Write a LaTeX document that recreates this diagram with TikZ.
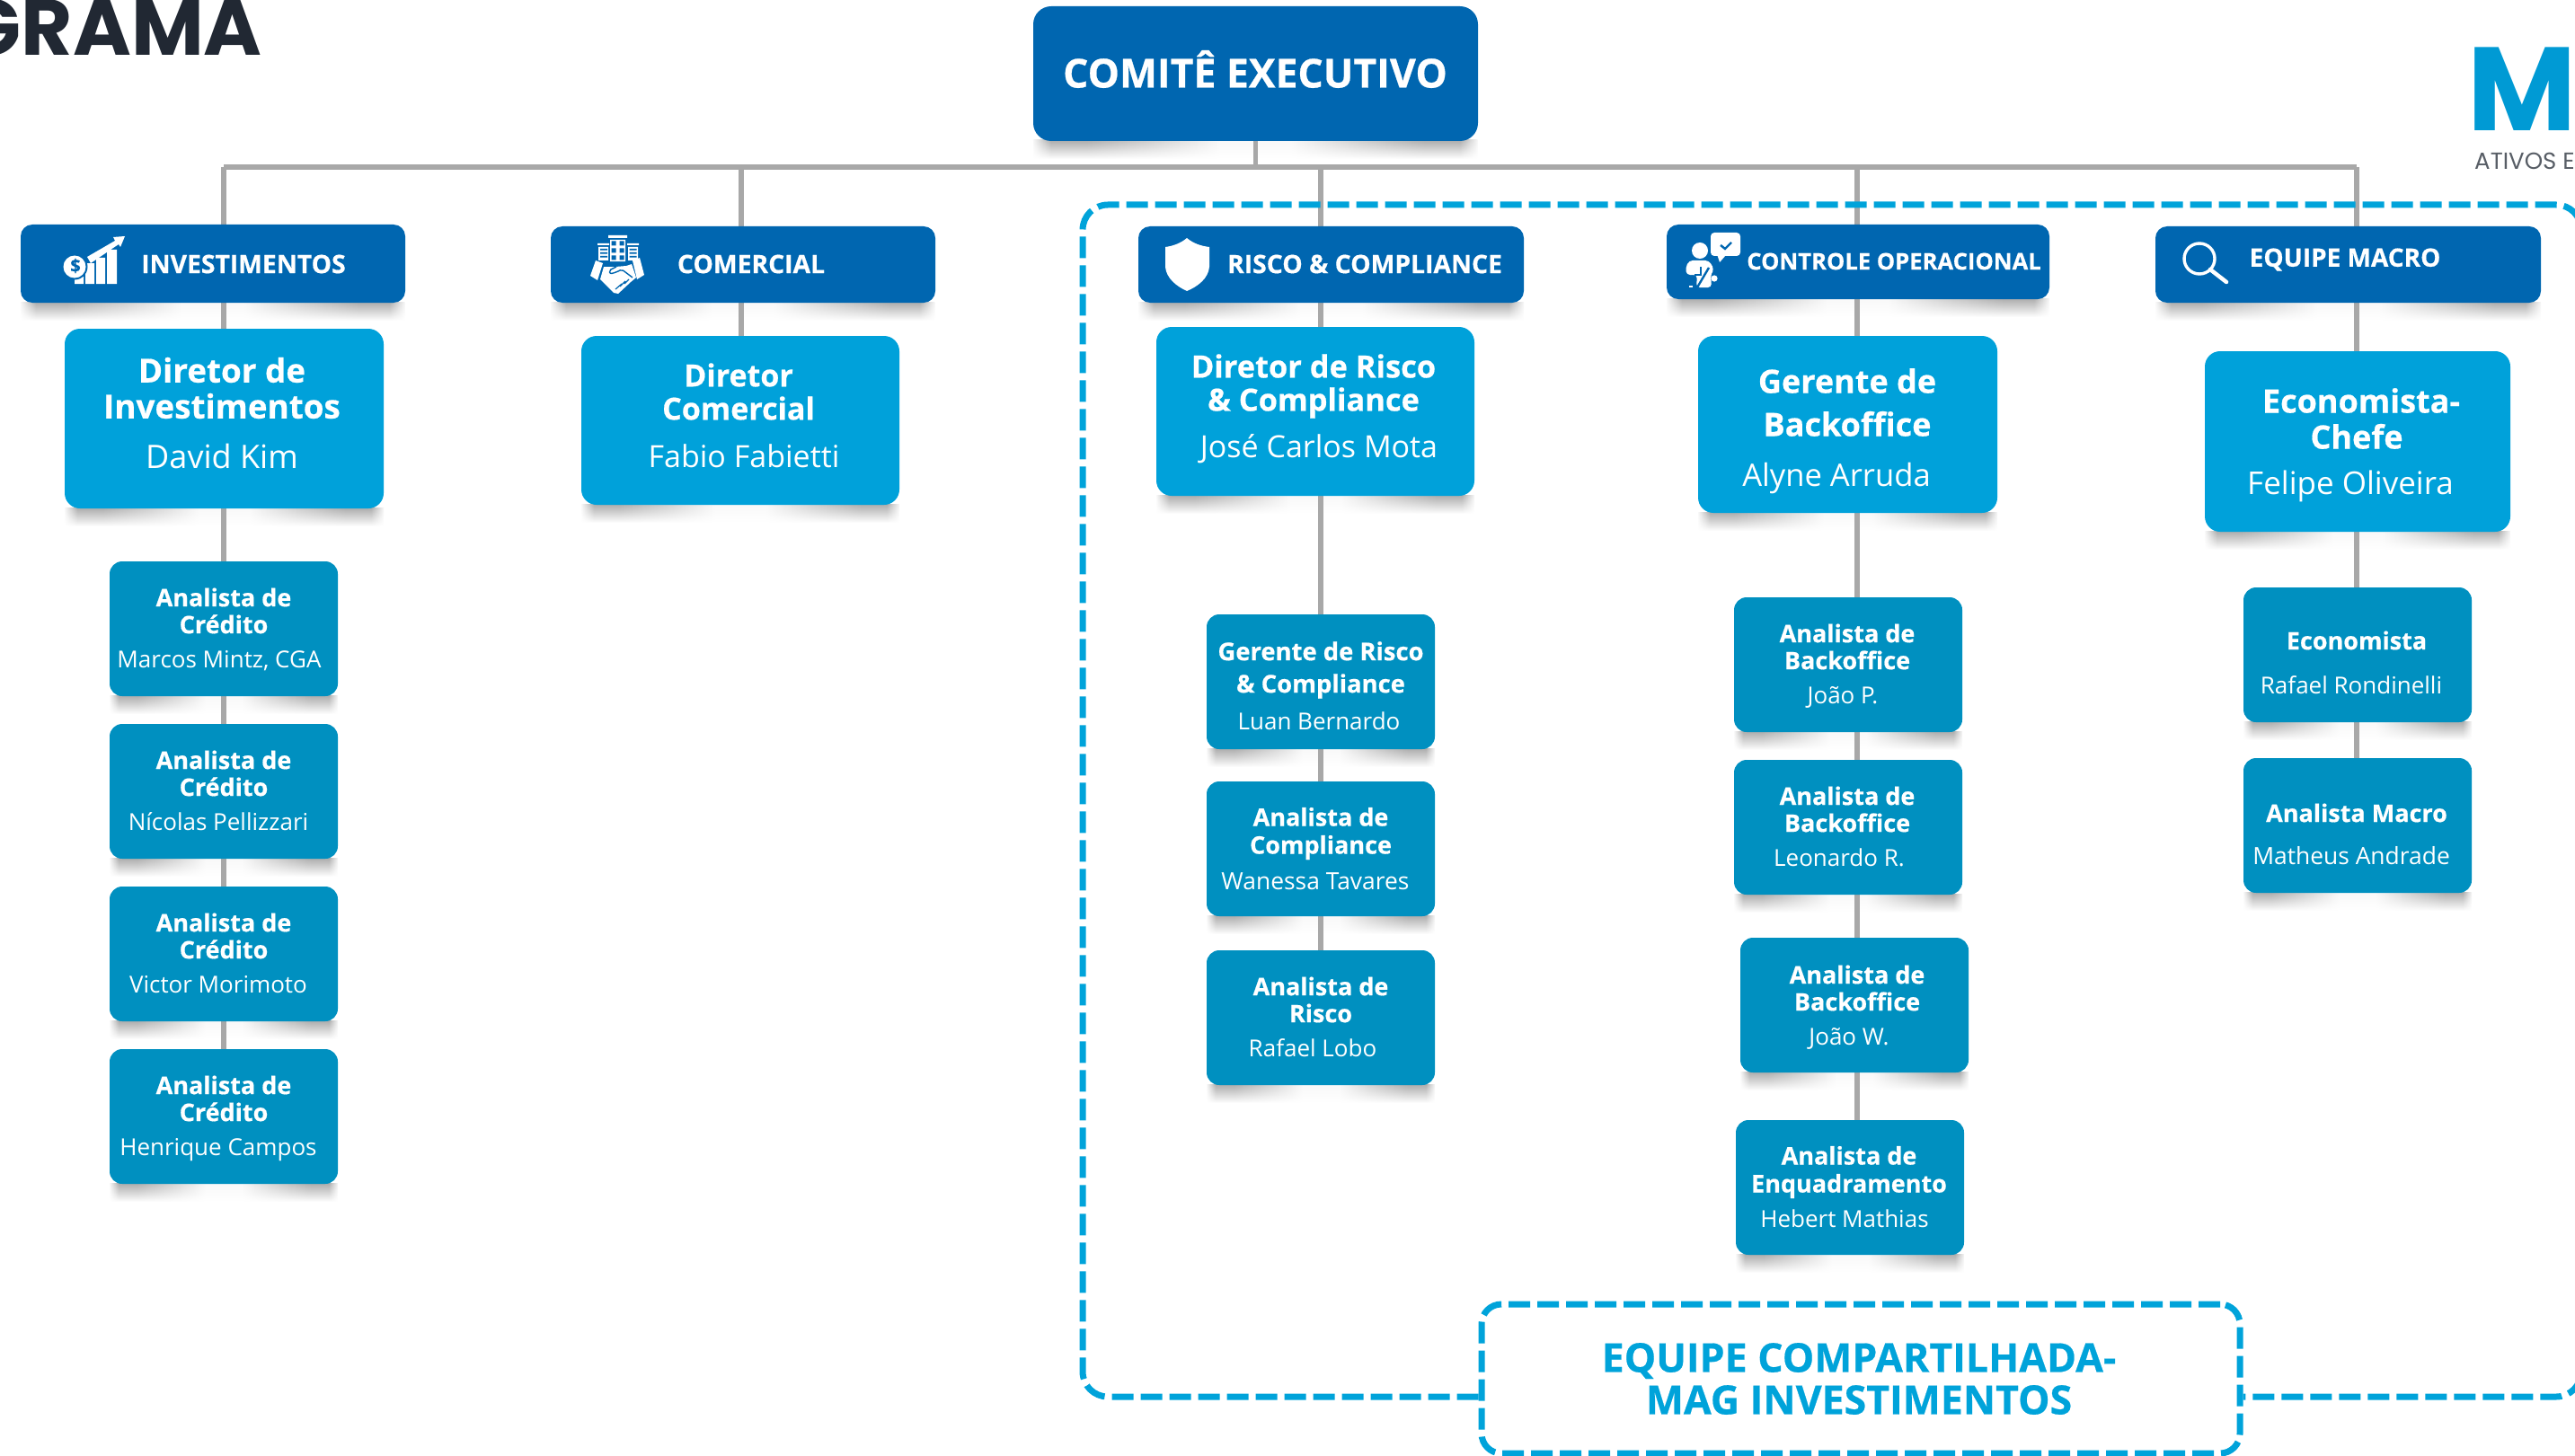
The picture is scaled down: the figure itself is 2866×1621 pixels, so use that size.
\documentclass[tikz,border=0pt]{standalone}
\usepackage{fontspec}
\setmainfont{Open Sans}
\newfontfamily\xb{Open Sans}[UprightFont=* Bold,FakeBold=0.5]
\newfontfamily\pop{Poppins}[UprightFont=* Bold]
\newfontfamily\popr{Poppins}
\usetikzlibrary{fadings,backgrounds}
\definecolor{hdr}{HTML}{0066B0}
\definecolor{dirc}{HTML}{00A1DA}
\definecolor{ana}{HTML}{0090C0}
\definecolor{cyanl}{HTML}{00A3DA}
\definecolor{linec}{HTML}{A8A8A8}
\definecolor{darkt}{HTML}{212833}
\definecolor{sg}{HTML}{ABABAB}
\definecolor{sl}{HTML}{F8F8F8}
\pgfdeclarehorizontalshading{shadowh}{100bp}{color(0bp)=(sl); color(25bp)=(sl); color(27bp)=(sg); color(31bp)=(sg); color(38bp)=(sg!60!white); color(46bp)=(sl); color(54bp)=(sl); color(62bp)=(sg!60!white); color(69bp)=(sg); color(73bp)=(sg); color(75bp)=(sl); color(100bp)=(sl)}
\tikzfading[name=fadedown, top color=transparent!0, bottom color=transparent!100]
\pgfdeclarelayer{shadowlayer}
\pgfdeclarelayer{linelayer}
\pgfsetlayers{shadowlayer,linelayer,main}
\tikzset{
  x=1pt,y=-1pt,
  orgbox/.style={rectangle,inner sep=0pt,outer sep=0pt,text=white},
  topb/.style={orgbox,fill=hdr,rounded corners=20pt},
  headb/.style={orgbox,fill=hdr,rounded corners=13pt},
  dirb/.style={orgbox,fill=dirc,rounded corners=17pt},
  anab/.style={orgbox,fill=ana,rounded corners=14pt},
  conn/.style={draw=linec,line width=6pt},
  teamline/.style={draw=cyanl,line width=7pt,dash pattern=on 24pt off 8pt},
  ttl/.style={text=white,align=center,inner sep=0pt},
  nm/.style={text=white,inner sep=0pt,anchor=mid},
  ic/.style={fill=white,draw=none},
  icb/.style={fill=hdr,draw=none},
}
% name, style, x0,y0,x1,y1
\newcommand{\orgb}[6]{%
  \pgfmathsetmacro{\cxv}{(#3+#5)/2}\pgfmathsetmacro{\cyv}{(#4+#6)/2}%
  \pgfmathsetmacro{\wv}{#5-#3}\pgfmathsetmacro{\hv}{#6-#4}%
  \begin{pgfonlayer}{shadowlayer}
  \path[shading=shadowh,path fading=fadedown] (#3,#6-1) rectangle (#5,#6+20);
  \end{pgfonlayer}
  \node[#2,minimum width=\wv pt,minimum height=\hv pt] (#1) at (\cxv,\cyv) {};}
% name, cx, cy, size, leading, text
\newcommand{\ttlnode}[6]{\node[ttl,font=\xb\fontsize{#4}{#5}\selectfont] (#1) at (#2,#3) {#6};}
\newcommand{\nmnode}[5]{\pgfmathsetmacro{\nyv}{#3+0.3*#4}\node[nm,font=\fontsize{#4}{#4}\selectfont] (#1) at (#2,\nyv) {#5};}
\newcommand{\hdrtext}[5]{\node[ttl,font=\xb\fontsize{#4}{#4}\selectfont] (#1) at (#2,#3) {#5};}
\begin{document}
\begin{tikzpicture}
\useasboundingbox (0,0) rectangle (2866,1621);
\clip (0,0) rectangle (2866,1621);
% title and logo fragments
\node[font=\pop\fontsize{88}{88}\selectfont,text=darkt,anchor=base east,inner sep=0pt] (grama) at (292,62) {GRAMA};
\node[font=\pop\fontsize{132}{132}\selectfont,text=cyanl!85!hdr,anchor=base west,inner sep=0pt] (logom) at (2746,146) {M};
\node[font=\popr\fontsize{26}{26}\selectfont,text=darkt!75!white,anchor=base west,inner sep=0pt] (logot) at (2754,189) {ATIVOS E};
% boxes
\orgb{top}{topb}{1150}{7}{1645}{157}
\orgb{hinv}{headb}{23}{250}{451}{337}
\orgb{hcom}{headb}{613}{252}{1041}{337}
\orgb{hris}{headb}{1267}{252}{1696}{337}
\orgb{hctl}{headb}{1855}{250}{2281}{333}
\orgb{hmac}{headb}{2399}{252}{2828}{337}
\orgb{dinv}{dirb}{72}{366}{427}{566}
\orgb{dcom}{dirb}{647}{374}{1001}{562}
\orgb{dris}{dirb}{1287}{364}{1641}{552}
\orgb{dctl}{dirb}{1890}{374}{2223}{571}
\orgb{dmac}{dirb}{2454}{391}{2794}{592}
\orgb{ai1}{anab}{122}{625}{376}{775}
\orgb{ai2}{anab}{122}{806}{376}{956}
\orgb{ai3}{anab}{122}{987}{376}{1137}
\orgb{ai4}{anab}{122}{1168}{376}{1318}
\orgb{ar1}{anab}{1343}{684}{1597}{834}
\orgb{ar2}{anab}{1343}{870}{1597}{1020}
\orgb{ar3}{anab}{1343}{1058}{1597}{1208}
\orgb{ac1}{anab}{1930}{665}{2184}{815}
\orgb{ac2}{anab}{1930}{846}{2184}{996}
\orgb{ac3}{anab}{1937}{1044}{2191}{1194}
\orgb{ac4}{anab}{1932}{1247}{2186}{1397}
\orgb{am1}{anab}{2497}{654}{2751}{804}
\orgb{am2}{anab}{2497}{844}{2751}{994}
% connectors
\coordinate (bl) at (249,186);
\coordinate (bc) at (825,186);
\coordinate (br) at (1470,186);
\coordinate (bk) at (2067,186);
\coordinate (bm) at (2623,186);
\coordinate (bt) at (1397,186);
\begin{pgfonlayer}{linelayer}
\draw[conn] (bl |- bt) -- (bm);
\draw[draw=linec,line width=5pt] (bt |- top.south) -- (bt);
\foreach \a/\u/\v in {bl/bl/hinv,bl/hinv/dinv,bl/dinv/ai1,bl/ai1/ai2,bl/ai2/ai3,bl/ai3/ai4,
 bc/bc/hcom,bc/hcom/dcom,
 br/br/hris,br/hris/dris,br/dris/ar1,br/ar1/ar2,br/ar2/ar3,
 bk/bk/hctl,bk/hctl/dctl,bk/dctl/ac1,bk/ac1/ac2,bk/ac2/ac3,bk/ac3/ac4,
 bm/bm/hmac,bm/hmac/dmac,bm/dmac/am1,bm/am1/am2}{
   \ifx\a\u \draw[conn] (\a) -- (\a |- \v.north);
   \else \draw[conn] (\a |- \u.south) -- (\a |- \v.north); \fi
 }
\end{pgfonlayer}
% shared team frame
\coordinate (fa) at (1649,1555);
\coordinate (fb) at (2493,1555);
\node[rectangle,draw=cyanl,line width=7pt,dash pattern=on 24pt off 8pt,rounded corners=22pt,fill=white,minimum width=844pt,minimum height=166pt,inner sep=0pt] (team) at (2071,1535) {};
\draw[teamline,rounded corners=28pt] (team.west |- fa) -- (1205,1555) -- (1205,228) -- (2873,228) -- (2873,1555) -- (team.east |- fb);
% texts
\node[ttl,font=\xb\fontsize{44.5}{46}\selectfont] (ttop) at (1397,77) {COMITÊ EXECUTIVO};
\hdrtext{tinv}{271}{294}{28.3}{INVESTIMENTOS}
\hdrtext{tcom}{836}{294}{28.3}{COMERCIAL}
\hdrtext{tris}{1519}{294}{28.3}{RISCO \& COMPLIANCE}
\hdrtext{tctl}{2108}{291}{25.6}{CONTROLE OPERACIONAL}
\hdrtext{tmac}{2610}{289}{28}{EQUIPE MACRO}
\ttlnode{t1}{247}{432}{36.8}{40}{Diretor de\\Investimentos}
\nmnode{n1}{247}{508}{36}{David Kim}
\ttlnode{t2}{822}{436}{34}{37}{Diretor\\Comercial}
\nmnode{n2}{828}{508}{34}{Fabio Fabietti}
\ttlnode{t3}{1462}{430}{34.4}{37}{Diretor de Risco\\\& Compliance}
\nmnode{n3}{1468}{497}{34}{José Carlos Mota}
\ttlnode{t4}{2056}{448}{36}{48}{Gerente de\\Backoffice}
\nmnode{n4}{2044}{528}{34.6}{Alyne Arruda}
\ttlnode{t5}{2628}{466}{36}{40}{Economista-\\Chefe\hspace*{10pt}}
\nmnode{n5}{2616}{537}{35}{Felipe Oliveira}
\ttlnode{a1}{249}{680}{27}{30}{Analista de\\Crédito}
\nmnode{m1}{244}{733}{26}{Marcos Mintz, CGA}
\ttlnode{a2}{249}{861}{27}{30}{Analista de\\Crédito}
\nmnode{m2}{243}{914}{26}{Nícolas Pellizzari}
\ttlnode{a3}{249}{1042}{27}{30}{Analista de\\Crédito}
\nmnode{m3}{243}{1095}{26}{Victor Morimoto}
\ttlnode{a4}{249}{1223}{27}{30}{Analista de\\Crédito}
\nmnode{m4}{243}{1276}{26}{Henrique Campos}
\ttlnode{b1}{1470}{746}{27.4}{36}{Gerente de Risco\\\& Compliance}
\nmnode{o1}{1468}{802}{26}{Luan Bernardo}
\ttlnode{b2}{1470}{928}{27}{31}{Analista de\\Compliance}
\nmnode{o2}{1464}{980}{26.4}{Wanessa Tavares}
\ttlnode{b3}{1470}{1113}{27}{30}{Analista de\\Risco}
\nmnode{o3}{1461}{1166}{26}{Rafael Lobo}
\ttlnode{c1}{2056}{720}{27}{30}{Analista de\\Backoffice}
\nmnode{p1}{2051}{773}{26}{João P.}
\ttlnode{c2}{2056}{901}{27}{30}{Analista de\\Backoffice}
\nmnode{p2}{2047}{954}{26}{Leonardo R.}
\ttlnode{c3}{2067}{1100}{27}{30}{Analista de\\Backoffice}
\nmnode{p3}{2058}{1153}{26}{João W.}
\ttlnode{c4}{2058}{1305}{27}{31}{Analista de\\Enquadramento}
\nmnode{p4}{2053}{1356}{26}{Hebert Mathias}
\ttlnode{e1}{2623}{713}{27}{30}{Economista}
\nmnode{q1}{2617}{762}{26}{Rafael Rondinelli}
\ttlnode{e2}{2623}{905}{27}{30}{Analista Macro}
\nmnode{q2}{2617}{952}{26.4}{Matheus Andrade}
\node[align=center,inner sep=0pt,text=cyanl,font=\xb\fontsize{44.6}{47}\selectfont] (tteam) at (2069,1535) {EQUIPE COMPARTILHADA-\\MAG INVESTIMENTOS};
% icon: investimentos
\fill[ic] (83,308) rectangle (93,316) (95,293) rectangle (105,316) (107,287) rectangle (117,316) (119,278) rectangle (130,316);
\fill[ic] (97,286) -- (128,268) -- (126,264) -- (139,263) -- (134,275) -- (132,272) -- (101,293) -- cycle;
\fill[icb] (83,297) circle (14.5);
\fill[ic] (83,297) circle (12.5);
\node[inner sep=0pt,text=hdr,font=\xb\fontsize{20}{20}\selectfont] (idollar) at (84,296) {\$};
% icon: comercial
\fill[ic] (677,262) rectangle (698,265) (679,267) rectangle (696,291);
\fill[ic] (665,271) rectangle (678,273) (666,275) rectangle (677,290);
\fill[ic] (698,271) rectangle (711,273) (699,275) rectangle (710,290);
\foreach \yy in {268.5,276.5,284.5}{\fill[icb] (680.5,\yy) rectangle +(5,5) (689.5,\yy) rectangle +(5,5);}
\foreach \yy in {277,281,285}{\fill[icb] (668,\yy) rectangle +(8,1.6) (700.5,\yy) rectangle +(8,1.6);}
\fill[ic] (663,290) -- (671,293) -- (665,312) -- (657,307) -- cycle;
\fill[ic] (704,290) -- (712,287) -- (717,306) -- (709,311) -- cycle;
\fill[ic] (672,297) -- (685,297) -- (697,296) -- (703,294) -- (708,309) -- (702,314) -- (688,327) -- (683,326) -- (668,311) -- cycle;
\draw[draw=hdr,line width=1.4pt,rounded corners=2pt] (704,309) -- (692,300) -- (686,303) -- (679,305) -- (678,301) -- (686,297);
\draw[draw=hdr,line width=1.2pt] (685,322) -- (692,316) (690,319) -- (696,313) (695,316) -- (700,311);
% icon: escudo
\fill[ic] (1321,265) .. controls (1314,271) and (1305,274) .. (1297,275) -- (1297,297) .. controls (1298,310) and (1310,319) .. (1321,324) .. controls (1333,319) and (1345,310) .. (1346,297) -- (1346,275) .. controls (1337,274) and (1328,271) .. (1321,265) -- cycle;
% icon: controle
\fill[ic,rounded corners=4pt] (1904,259) rectangle (1937,285);
\fill[ic] (1911,283) -- (1921,284) -- (1914,292) -- cycle;
\draw[draw=hdr,line width=2.4pt] (1915,273) -- (1920,277) -- (1927,270);
\fill[ic] (1892,279) circle (9);
\fill[ic,rounded corners=4pt] (1880,290) -- (1902,290) -- (1908,300) -- (1904,305) -- (1905,320) -- (1888,320) -- (1889,306) -- (1877,306) -- (1876,298) -- cycle;
\fill[ic] (1880,318) rectangle (1884,320);
\fill[ic] (1908,310) circle (3.6);
\draw[draw=hdr,line width=2.4pt] (1893,297) -- (1893,306) -- (1886,306);
\draw[draw=hdr,line width=2.4pt] (1902,298) -- (1889,320);
% icon: lupa
\draw[draw=white,line width=3.4pt] (2448,288) circle (17);
\draw[draw=white,line width=4.5pt,line cap=round] (2460,300) -- (2478,314);
\end{tikzpicture}
\end{document}
